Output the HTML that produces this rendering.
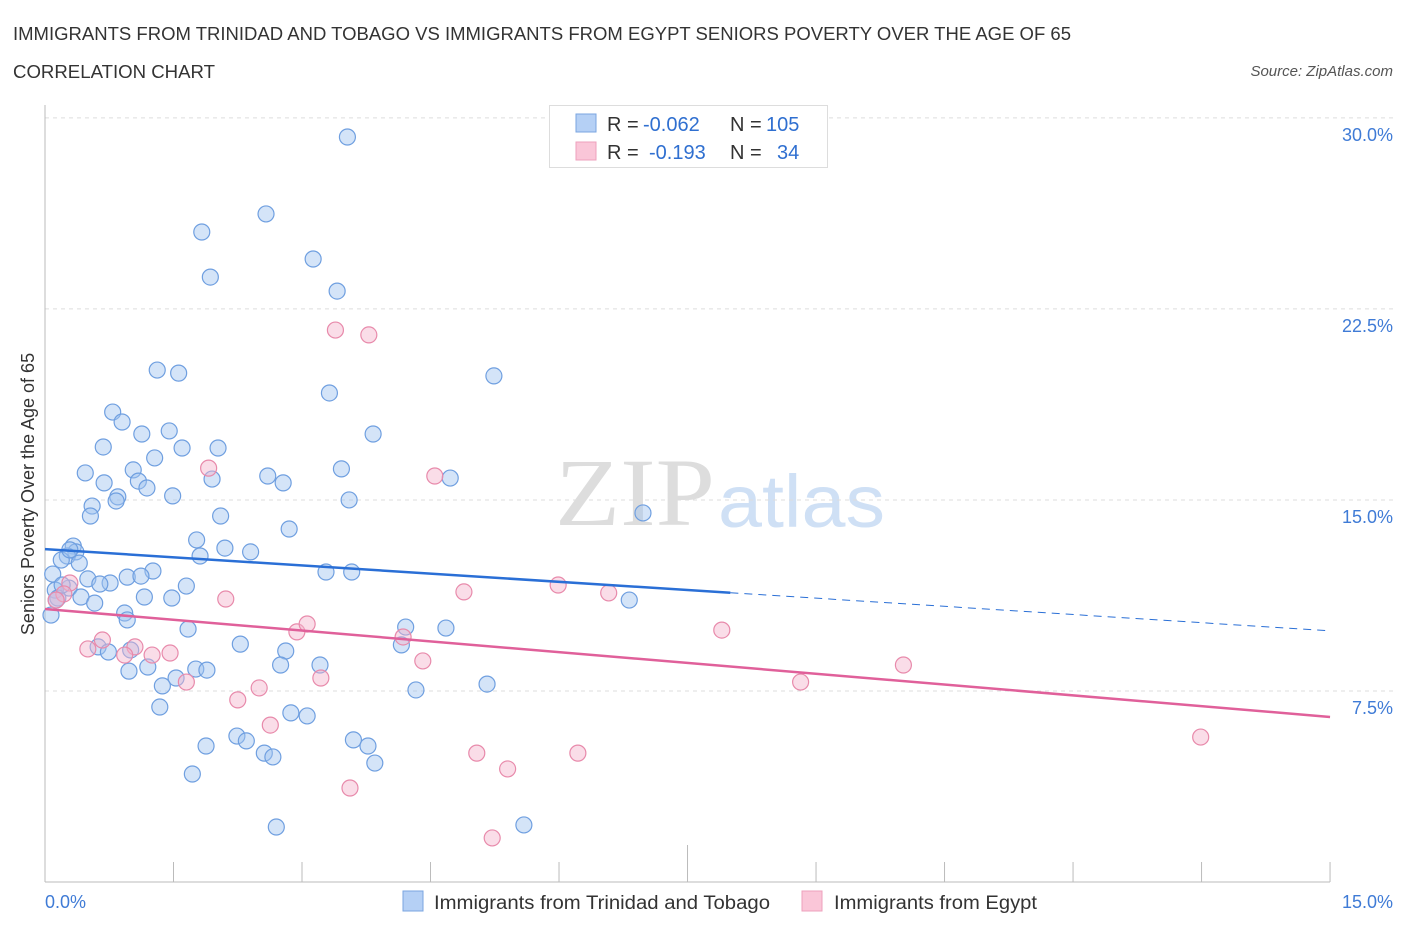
<!DOCTYPE html>
<html><head><meta charset="utf-8"><style>
body{margin:0;background:#fff;font-family:"Liberation Sans",sans-serif;}
</style></head><body>
<svg id="c" width="1406" height="930" xmlns="http://www.w3.org/2000/svg" style="font-family:'Liberation Sans',sans-serif">
<text x="13" y="40" font-size="18" fill="#333" textLength="1058" lengthAdjust="spacingAndGlyphs">IMMIGRANTS FROM TRINIDAD AND TOBAGO VS IMMIGRANTS FROM EGYPT SENIORS POVERTY OVER THE AGE OF 65</text>
<text x="13" y="78" font-size="18" fill="#333" textLength="202" lengthAdjust="spacingAndGlyphs">CORRELATION CHART</text>
<text x="1393" y="76" font-size="15" fill="#555" font-style="italic" text-anchor="end">Source: ZipAtlas.com</text>
<text x="715" y="525" font-size="96" fill="#ddd" text-anchor="end" font-family="Liberation Serif" textLength="160" lengthAdjust="spacingAndGlyphs">ZIP</text>
<text x="718" y="527" font-size="74" fill="#cfe0f5" textLength="167" lengthAdjust="spacingAndGlyphs">atlas</text>
<text transform="translate(34,494) rotate(-90)" font-size="18" fill="#333" text-anchor="middle">Seniors Poverty Over the Age of 65</text>
<g id="grid"></g><g id="pts"></g><g id="lines"></g>
<g>
<rect x="549.5" y="105.5" width="278" height="62" fill="#fff" stroke="#ddd"/>
<rect x="576" y="114" width="20" height="18" fill="#b5d0f5" stroke="#7aa5e0"/>
<rect x="576" y="142" width="20" height="18" fill="#fac6d8" stroke="#eea0bc"/>
<text x="607" y="131" font-size="20" fill="#333">R =</text>
<text x="643" y="131" font-size="20" fill="#2f6fd0">-0.062</text>
<text x="730" y="131" font-size="20" fill="#333">N =</text>
<text x="766" y="131" font-size="20" fill="#2f6fd0">105</text>
<text x="607" y="159" font-size="20" fill="#333">R =</text>
<text x="649" y="159" font-size="20" fill="#2f6fd0">-0.193</text>
<text x="730" y="159" font-size="20" fill="#333">N =</text>
<text x="777" y="159" font-size="20" fill="#2f6fd0">34</text>
</g>
<g>
<rect x="403" y="891" width="20" height="20" fill="#b5d0f5" stroke="#7aa5e0"/>
<text x="434" y="909" font-size="19" fill="#333" textLength="336" lengthAdjust="spacingAndGlyphs">Immigrants from Trinidad and Tobago</text>
<rect x="802" y="891" width="20" height="20" fill="#fac6d8" stroke="#eea0bc"/>
<text x="834" y="909" font-size="19" fill="#333" textLength="203" lengthAdjust="spacingAndGlyphs">Immigrants from Egypt</text>
</g>
</svg>
<script>
const yTicks=[7.5,15,22.5,30];
const yTickLabels=["7.5%","15.0%","22.5%","30.0%"];
const blueX=[3.53,2.58,1.83,3.13,1.93,3.41,1.31,1.56,5.24,3.32,0.79,0.90,1.13,1.45,3.83,1.60,2.02,0.68,1.28,3.46,0.47,1.03,1.95,2.60,2.78,4.73,0.69,1.09,1.19,0.85,1.49,0.83,3.55,0.55,0.53,2.05,6.98,2.85,1.77,2.10,2.40,0.33,0.36,0.26,0.19,1.81,0.40,0.09,0.96,1.26,1.12,3.28,3.58,0.50,0.76,0.64,1.65,0.28,0.12,0.15,0.42,1.16,1.48,0.58,6.82,0.93,0.96,0.07,1.67,4.21,4.68,2.28,4.16,0.62,0.74,2.81,1.00,1.20,2.75,3.21,1.76,1.89,0.98,1.53,1.37,4.33,5.16,1.34,2.87,3.06,2.24,2.35,3.60,3.77,1.88,2.56,2.66,3.85,1.72,2.70,5.59,0.13,0.20,0.29];
const blueY=[29.25,26.23,25.52,24.46,23.75,23.20,20.10,19.98,19.87,19.20,18.45,18.06,17.59,17.71,17.59,17.04,17.04,17.08,16.65,16.22,16.06,16.18,15.82,15.94,15.67,15.86,15.67,15.74,15.47,15.12,15.16,14.96,15.00,14.76,14.37,14.37,14.49,13.86,13.43,13.11,12.96,13.19,12.96,12.80,12.64,12.80,12.52,12.09,11.97,12.21,12.01,12.17,12.17,11.90,11.74,11.70,11.62,11.54,11.46,11.15,11.19,11.19,11.15,10.95,11.07,10.56,10.29,10.48,9.93,10.01,9.97,9.34,9.31,9.23,9.03,9.07,9.11,8.44,8.52,8.52,8.36,8.32,8.28,8.01,7.70,7.54,7.77,6.87,6.64,6.52,5.73,5.54,5.58,5.34,5.34,5.06,4.91,4.67,4.24,2.16,2.24,11.07,11.66,13.04];
const pinkX=[3.39,3.78,1.91,4.55,2.11,4.89,5.99,6.58,0.29,0.22,0.13,0.67,1.05,0.50,1.25,1.46,0.93,2.94,3.06,4.18,4.41,3.22,1.65,2.25,2.50,2.63,7.90,10.02,8.82,13.49,5.04,5.40,6.22,3.56,5.22];
const pinkY=[21.67,21.48,16.25,15.94,11.11,11.39,11.66,11.35,11.74,11.31,11.07,9.50,9.23,9.15,8.91,8.99,8.91,9.82,10.13,9.62,8.68,8.01,7.85,7.15,7.62,6.16,9.89,8.52,7.85,5.69,5.06,4.44,5.06,3.69,1.73];
const blueTrend=[13.07,9.86];
const pinkTrend=[10.72,6.48];
const NS="http://www.w3.org/2000/svg";
const X=v=>45+v*85.67, Y=v=>882-v*25.47;
function mk(tag,at,parent){const e=document.createElementNS(NS,tag);for(const k in at)e.setAttribute(k,at[k]);document.getElementById(parent).appendChild(e);return e;}
yTicks.forEach((t,i)=>{
 const g=mk('line',{x1:45,x2:1393,y1:Y(t),y2:Y(t),stroke:'#ddd','stroke-dasharray':'4,4'},'grid');
 
 
 const l=mk('text',{x:1393,y:Y(t)+23,'font-size':18,fill:'#3f7bd6','text-anchor':'end'},'grid');
 l.textContent=yTickLabels[i];
 
 
});
const ax=mk('line',{x1:45,x2:45,y1:105,y2:882,stroke:'#bbb'},'grid');


const bx=mk('line',{x1:45,x2:1330,y1:882,y2:882,stroke:'#bbb'},'grid');


for(let i=0;i<=10;i++){const tk=mk('line',{x1:X(i*1.5),x2:X(i*1.5),y1:882,y2:i==5?845:862,stroke:'#bbb'},'grid');
 
 }
[[0,"0.0%","start",45],[15,"15.0%","end",1393]].forEach(a=>{const t=mk('text',{x:a[3],y:908,'font-size':18,fill:'#3f7bd6','text-anchor':a[2]},'grid');t.textContent=a[1];
 
 });
blueX.forEach((v,i)=>{const c=mk('circle',{cx:X(v),cy:Y(blueY[i]),r:8,fill:'rgba(160,196,240,0.45)',stroke:'#6f9fe0','stroke-width':1.2},'pts');
 
 });
pinkX.forEach((v,i)=>{const c=mk('circle',{cx:X(v),cy:Y(pinkY[i]),r:8,fill:'rgba(245,180,205,0.45)',stroke:'#e88aab','stroke-width':1.2},'pts');
 
 });
const bAt=x=>blueTrend[0]+(blueTrend[1]-blueTrend[0])*x/15;
const l1=mk('line',{x1:X(0),y1:Y(bAt(0)),x2:X(8),y2:Y(bAt(8)),stroke:'#2a6fd6','stroke-width':2.5},'lines');


const l2=mk('line',{x1:X(8),y1:Y(bAt(8)),x2:X(15),y2:Y(bAt(15)),stroke:'#2a6fd6','stroke-width':1,'stroke-dasharray':'8,6'},'lines');


const l3=mk('line',{x1:X(0),y1:Y(pinkTrend[0]),x2:X(15),y2:Y(pinkTrend[1]),stroke:'#e0609a','stroke-width':2.5},'lines');


</script>
</body></html>
